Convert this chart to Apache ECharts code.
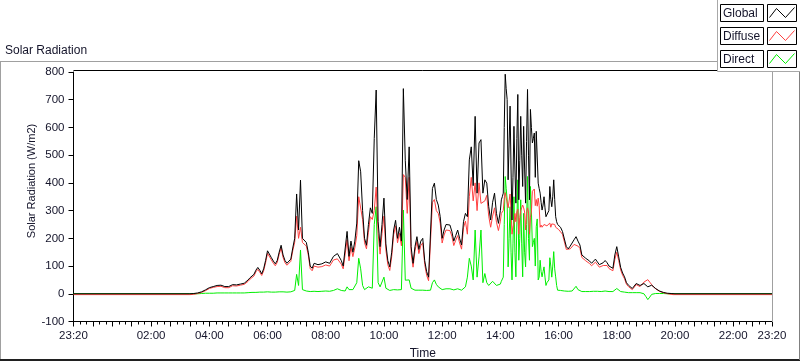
<!DOCTYPE html>
<html>
<head>
<meta charset="utf-8">
<script src="https://cdn.jsdelivr.net/npm/echarts@6/dist/echarts.min.js"></script>
<style>
html,body{margin:0;padding:0;background:#fff;}
#chart{width:800px;height:361px;}
</style>
</head>
<body>
<div id="chart"></div>
<script>
// ---- data (minutes since midnight; the axis runs 23:20 -> 23:20) ----
const chartTitle = 'Solar Radiation';
const yAxisTitle = 'Solar Radiation (W/m2)';
const xAxisTitle = 'Time';
const seriesNames = ['Global', 'Diffuse', 'Direct'];

const xTickValues = [-40, 120, 240, 360, 480, 600, 720, 840, 960, 1080, 1200, 1320, 1400];
const xTickLabels = ['23:20', '02:00', '04:00', '06:00', '08:00', '10:00', '12:00', '14:00', '16:00', '18:00', '20:00', '22:00', '23:20'];

const times = [
-40,
200,204,208,212,216,220,224,228,232,236,
240,244,248,252,256,260,264,268,272,276,
280,284,288,292,296,300,304,308,312,316,
320,324,328,332,336,340,344,348,352,356,
360,364,368,372,376,380,384,388,392,396,
400,404,408,412,416,420,424,428,432,436,
440,444,448,452,456,460,464,468,472,476,
480,484,488,492,496,500,504,508,512,516,
520,524,528,532,536,540,544,548,552,556,
560,564,568,572,576,580,584,588,592,596,
600,604,608,612,616,620,624,628,632,636,
640,644,648,652,656,660,664,668,672,676,
680,684,688,692,696,700,704,708,712,716,
720,724,728,732,736,740,744,748,752,756,
760,764,768,772,776,780,784,788,792,796,
800,804,808,812,816,820,824,828,832,836,
840,842,844,846,848,850,852,854,856,858,
860,862,864,866,868,870,872,874,876,878,
880,882,884,886,888,890,892,894,896,898,
900,902,904,906,908,910,912,914,916,918,
920,922,924,926,928,930,932,934,936,938,
940,942,944,946,948,950,952,954,956,958,
960,964,968,972,976,980,984,988,992,996,
1000,1004,1008,1012,1016,1020,1024,1028,1032,1036,
1040,1044,1048,1052,1056,1060,1064,1068,1072,1076,
1080,1084,1088,1092,1096,1100,1104,1108,1112,1116,
1120,1124,1128,1132,1136,1140,1144,1148,1152,1156,
1160,1164,1168,1172,1176,1180,1184,1188,1192,1196,
1200,
1400];

const globalValues = [
0,
0,0,1,2,3,4,7,10,14,18,
22,24,26,28,30,31,31,28,26,25,
26,30,33,33,32,34,35,36,38,42,
50,58,62,70,85,95,85,72,90,120,
155,160,130,118,108,120,150,175,140,120,
110,108,125,165,200,360,230,410,200,195,
185,150,100,92,110,115,105,100,108,105,
115,120,110,115,135,140,145,148,120,100,
105,225,135,190,150,190,255,480,440,300,
200,175,250,310,290,560,735,260,170,250,
345,180,120,97,150,230,265,200,240,190,
740,480,340,530,170,110,170,206,160,190,
200,120,80,60,55,380,399,340,320,278,
200,230,250,255,248,225,190,210,230,200,
176,260,290,278,483,530,390,640,363,544,
556,363,411,399,314,266,330,363,290,254,
300,339,350,363,600,792,740,701,411,540,
677,450,266,420,604,450,327,560,719,339,
480,640,500,387,604,450,327,550,737,500,
339,665,600,544,560,580,420,586,586,399,
380,363,330,302,320,350,310,278,285,278,
300,387,340,314,350,411,340,278,260,250,
245,240,225,218,170,162,172,170,195,206,
190,176,140,133,128,121,118,110,115,125,
115,105,110,112,120,112,100,97,92,140,
170,133,95,75,61,40,31,30,19,25,
37,33,30,31,37,33,25,27,31,25,
19,14,10,7,5,3,2,1,1,0,
0,
0];

const diffuseValues = [
-3,
-3,-3,-2,-1,1,2,5,8,11,15,
19,21,23,25,26,27,27,24,22,21,
22,26,29,29,28,30,31,32,34,37,
45,53,56,64,79,88,78,66,83,112,
146,150,122,110,101,113,142,165,131,112,
103,101,117,155,186,280,200,240,185,180,
172,140,91,83,100,105,96,91,98,95,
104,109,100,104,122,124,126,127,107,90,
94,195,119,168,134,166,210,350,345,268,
184,162,222,278,268,300,385,218,143,218,
280,158,105,84,134,213,245,184,218,173,
430,420,290,420,148,96,154,189,145,174,
184,106,67,47,41,330,340,300,290,255,
183,212,230,232,228,208,174,193,210,183,
161,238,262,215,350,420,335,400,300,400,
326,320,335,355,280,240,280,310,258,228,
262,290,295,300,345,365,360,358,310,335,
360,300,215,240,254,290,260,295,305,215,
275,300,310,320,310,295,230,290,310,295,
215,275,295,370,372,378,318,340,316,345,
318,240,248,240,240,250,248,248,245,245,
250,255,240,252,250,258,250,240,235,237,
232,230,215,208,160,153,162,158,178,175,
172,164,131,124,119,112,109,101,105,114,
105,96,101,102,109,102,91,88,83,124,
150,120,86,67,54,34,26,25,15,21,
33,29,26,28,42,48,51,42,33,24,
18,13,9,6,4,2,0,-1,-2,-3,
-3,
-3];

const directValues = [
0,
0,0,0,0,0,1,1,1,2,2,
2,2,2,2,3,3,3,3,3,3,
3,3,3,3,3,3,3,3,3,4,
4,4,5,5,5,6,6,5,6,6,
7,7,6,6,6,6,7,8,7,6,
6,6,7,8,12,70,30,158,15,12,
10,9,8,8,9,9,8,8,9,9,
10,10,9,10,12,15,18,20,12,9,
10,25,15,20,15,22,40,128,90,30,
15,12,25,30,20,250,314,40,25,30,
60,20,13,12,14,15,18,14,20,15,
302,49,45,50,20,13,13,14,13,13,
13,12,12,12,13,40,50,34,25,20,
15,15,18,20,18,15,14,15,18,15,
13,20,25,60,128,100,50,230,60,133,
230,40,73,40,30,25,45,50,30,25,
35,45,49,60,250,423,380,339,97,200,
314,150,50,180,350,150,61,260,411,121,
200,339,180,61,290,150,97,250,423,200,
121,387,300,170,185,200,100,242,270,50,
60,121,80,61,80,97,60,30,40,33,
50,130,100,60,100,152,90,61,30,13,
15,12,10,10,9,9,9,10,15,27,
15,10,8,8,8,8,8,8,9,10,
9,8,8,9,10,9,8,8,8,15,
19,12,8,7,6,5,4,4,4,4,
4,4,4,3,0,-10,-21,-12,-2,1,
1,1,1,1,1,0,0,0,0,0,
0,
0];

// ---- styling ----
const FONT = '"Liberation Sans", Arial, sans-serif';
const TEXT = '#14142a';
const colors = { Global: '#000000', Diffuse: '#ff4040', Direct: '#00ee00' };

function pairs(vals) { return times.map((t, i) => [t, vals[i]]); }

const chart = echarts.init(document.getElementById('chart'), null, { renderer: 'canvas' });

// legend graphic (LabVIEW style plot legend)
const legendGraphics = [];
legendGraphics.push({
  type: 'rect', shape: { x: 717.5, y: -2, width: 90, height: 73.5 },
  style: { fill: '#ffffff', stroke: '#a8a8a8', lineWidth: 1 }, z: 100
});
seriesNames.forEach((name, i) => {
  const top = 4.5 + i * 23;
  legendGraphics.push({
    type: 'rect', shape: { x: 720.5, y: top, width: 43, height: 17 },
    style: { fill: '#ffffff', stroke: '#000', lineWidth: 1 }, z: 101
  });
  legendGraphics.push({
    type: 'text', x: 723, y: top + 9,
    style: { text: name, font: '12px ' + FONT, fill: TEXT, textVerticalAlign: 'middle', verticalAlign: 'middle' }, z: 102
  });
  legendGraphics.push({
    type: 'rect', shape: { x: 767.5, y: top, width: 29, height: 17 },
    style: { fill: '#ffffff', stroke: '#000', lineWidth: 1 }, z: 101
  });
  legendGraphics.push({
    type: 'polyline',
    shape: { points: [[769.5, top + 13], [776.5, top + 4], [785.5, top + 13], [794.5, top + 3]] },
    style: { stroke: colors[name], lineWidth: 1, fill: null }, z: 102
  });
});

const frameGraphics = [
  // panel frame
  { type: 'line', shape: { x1: 0, y1: 61.5, x2: 718, y2: 61.5 }, style: { stroke: '#a0a0a0', lineWidth: 1 }, z: 50 },
  { type: 'line', shape: { x1: 0.5, y1: 61.5, x2: 0.5, y2: 360 }, style: { stroke: '#a0a0a0', lineWidth: 1 }, z: 50 },
  { type: 'line', shape: { x1: 0, y1: 360, x2: 800, y2: 360 }, style: { stroke: '#202020', lineWidth: 2 }, z: 50 },
  { type: 'line', shape: { x1: 799.5, y1: 71, x2: 799.5, y2: 360 }, style: { stroke: '#808080', lineWidth: 1 }, z: 50 },
  // plot area border (top black, right gray)
  { type: 'line', shape: { x1: 73.5, y1: 70.5, x2: 772, y2: 70.5 }, style: { stroke: '#000', lineWidth: 1 }, z: 50 },
  { type: 'line', shape: { x1: 772.5, y1: 70.5, x2: 772.5, y2: 322 }, style: { stroke: '#a0a0a0', lineWidth: 1 }, z: 50 },
  // title
  { type: 'text', x: 5, y: 51, style: { text: chartTitle, font: '12px ' + FONT, fill: TEXT, verticalAlign: 'middle', textVerticalAlign: 'middle' }, z: 50 },
  // y axis title
  { type: 'text', x: 31.5, y: 181, rotation: Math.PI / 2,
    style: { text: yAxisTitle, font: '11px ' + FONT, fill: TEXT, align: 'center', textAlign: 'center', verticalAlign: 'middle', textVerticalAlign: 'middle' }, z: 50 }
];

const option = {
  animation: false,
  backgroundColor: '#ffffff',
  grid: { left: 73.5, right: 28, top: 72, bottom: 39.5, containLabel: false, outerBoundsMode: 'none' },
  xAxis: {
    type: 'value', min: -40, max: 1400, interval: 40,
    name: xAxisTitle, nameLocation: 'middle', nameGap: 26,
    nameTextStyle: { fontFamily: FONT, fontSize: 12, color: TEXT },
    axisLine: { show: true, onZero: false, lineStyle: { color: '#000', width: 1 } },
    axisTick: { show: true, inside: false, length: 5, lineStyle: { color: '#000' } },
    minorTick: { show: true, splitNumber: 3, length: 3, lineStyle: { color: '#000' } },
    splitLine: { show: false },
    axisLabel: {
      margin: 8, fontFamily: FONT, fontSize: 11.5, color: TEXT, hideOverlap: false,
      showMinLabel: true, showMaxLabel: true,
      formatter: function (v) {
        const idx = xTickValues.indexOf(Math.round(v));
        return idx >= 0 ? xTickLabels[idx] : '';
      }
    }
  },
  yAxis: {
    type: 'value', min: -100, max: 800, interval: 100,
    axisLine: { show: true, onZero: false, lineStyle: { color: '#000', width: 1 } },
    axisTick: { show: true, inside: false, length: 5, lineStyle: { color: '#000' } },
    splitLine: { show: false },
    axisLabel: { margin: 9, fontFamily: FONT, fontSize: 11.5, color: TEXT }
  },
  series: [
    { name: 'Direct', type: 'line', data: pairs(directValues), showSymbol: false, symbol: 'none',
      lineStyle: { color: colors.Direct, width: 1 }, itemStyle: { color: colors.Direct }, z: 2 },
    { name: 'Diffuse', type: 'line', data: pairs(diffuseValues), showSymbol: false, symbol: 'none',
      lineStyle: { color: colors.Diffuse, width: 1 }, itemStyle: { color: colors.Diffuse }, z: 3 },
    { name: 'Global', type: 'line', data: pairs(globalValues), showSymbol: false, symbol: 'none',
      lineStyle: { color: colors.Global, width: 1 }, itemStyle: { color: colors.Global }, z: 4 }
  ],
  graphic: frameGraphics.concat(legendGraphics)
};

chart.setOption(option);
</script>
</body>
</html>
